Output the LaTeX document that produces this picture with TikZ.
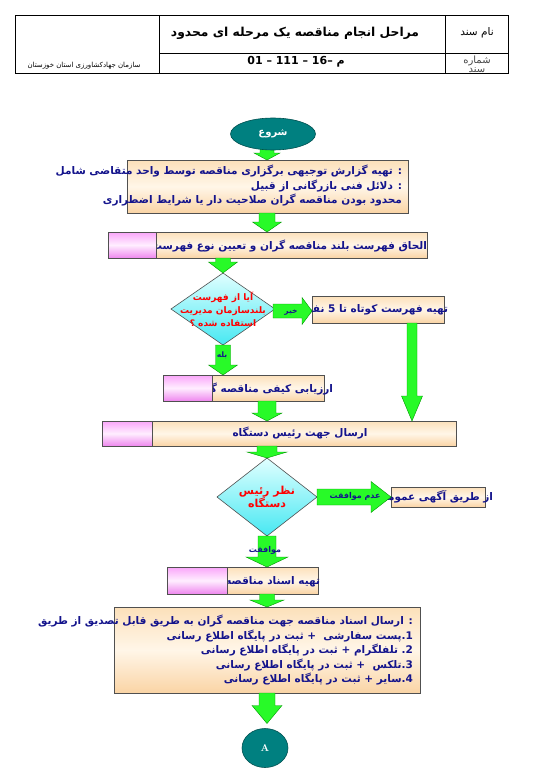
\documentclass[tikz,border=0pt]{standalone}
\usepackage{fontspec}
\usetikzlibrary{shapes.geometric,calc}
\TeXXeTstate=1
\newfontfamily\ar[Script=Arabic]{DejaVu Sans}
\newcommand\RL[1]{\beginR #1\endR}
\definecolor{navytxt}{RGB}{20,20,140}
\definecolor{peachT}{RGB}{252,224,186}
\definecolor{peachM}{RGB}{255,246,232}
\definecolor{peachB}{RGB}{250,212,165}
\definecolor{pinkT}{RGB}{250,165,250}
\definecolor{pinkM}{RGB}{255,238,255}
\definecolor{pinkB}{RGB}{238,135,238}
\definecolor{cyanT}{RGB}{225,255,255}
\definecolor{cyanB}{RGB}{70,232,242}
\definecolor{tealF}{RGB}{0,128,128}
\definecolor{arrF}{RGB}{40,250,40}
\definecolor{arrD}{RGB}{0,150,0}
\definecolor{boxD}{RGB}{80,80,80}
\newcommand\arrdown[5]{%
  \path[blk] let \p1=#1, \p2=#2 in (\x1-#3,\y1) -- (\x1+#3,\y1) -- (\x1+#3,\y2+#5) -- (\x1+#4,\y2+#5) -- (\x1,\y2) -- (\x1-#4,\y2+#5) -- (\x1-#3,\y2+#5) -- cycle;}
\newcommand\arrright[5]{%
  \path[blk] let \p1=#1, \p2=#2 in (\x1,\y1+#3) -- (\x2-#5,\y1+#3) -- (\x2-#5,\y1+#4) -- (\x2,\y1) -- (\x2-#5,\y1-#4) -- (\x2-#5,\y1-#3) -- (\x1,\y1-#3) -- cycle;}
\begin{document}
\begin{tikzpicture}[x=1pt,y=-1pt,
  box/.style={draw=boxD, line width=0.6pt, top color=peachT, bottom color=peachB, middle color=peachM, inner sep=0pt, outer sep=0pt, rectangle},
  pinkbox/.style={draw=boxD, line width=0.6pt, top color=pinkT, bottom color=pinkB, middle color=pinkM, inner sep=0pt, outer sep=0pt, rectangle},
  dia/.style={diamond, draw=boxD, line width=0.6pt, top color=cyanT, bottom color=cyanB, inner sep=0pt, outer sep=0pt},
  term/.style={ellipse, draw={rgb,255:red,0;green,80;blue,80}, line width=0.6pt, fill=tealF, inner sep=0pt, outer sep=0pt, text=white},
  txt/.style={inner sep=0pt, outer sep=0pt, text=navytxt, align=right, font=\ar\bfseries\fontsize{10.5}{14.5}\selectfont},
  redtxt/.style={inner sep=0pt, text=red, align=center, font=\ar\bfseries\fontsize{9}{13}\selectfont},
  lbl/.style={inner sep=0pt, text=navytxt, font=\ar\bfseries\fontsize{7.5}{9}\selectfont},
  hdr/.style={inner sep=0pt, font=\ar\fontsize{10.5}{12}\selectfont},
  blk/.style={fill=arrF, draw=arrD, line width=0.4pt},
  tline/.style={line width=1pt, draw=black}]
\useasboundingbox (0,0) rectangle (540,781);

% ---------- header table ----------
\draw[tline] (15,16) rectangle (508,74);
\draw[tline] (159,16) -- (159,74);
\draw[tline] (445,16) -- (445,74);
\draw[tline] (159,54) -- (508,54);
\node[hdr] (h1) at (477,33) {\RL{نام سند}};
\node[hdr, text={rgb,255:red,70;green,70;blue,70}, font=\ar\fontsize{10}{9}\selectfont] (h2) at (477,61) {\RL{شماره}};
\node[hdr, text={rgb,255:red,70;green,70;blue,70}, font=\ar\fontsize{10}{9}\selectfont] (h3) at (477,70.5) {\RL{سند}};
\node[hdr, font=\ar\bfseries\fontsize{12.3}{15}\selectfont] (ht) at (295,33) {\RL{مراحل انجام مناقصه یک مرحله ای محدود}};
\node[hdr, font=\ar\bfseries\fontsize{11}{13}\selectfont] (hc) at (296,62) {\mbox{01}\ \mbox{–}\ \mbox{111}\ \mbox{–}\ \mbox{16}\mbox{–}\ \mbox{م}};
\node[hdr, font=\ar\fontsize{7}{9}\selectfont] (ho) at (84,66) {\RL{سازمان جهادکشاورزی استان خوزستان}};

% ---------- column coordinates ----------
\coordinate (colx) at (267,0);
\coordinate (colb) at (412,0);

% ---------- boxes ----------
\node[box, minimum width=281pt, minimum height=53pt] (b1) at (267.5,186.5) {};
\node[box, minimum width=319pt, minimum height=26pt] (b2) at (267.5,245) {};
\node[dia, minimum width=104pt, minimum height=72pt] (d1) at (223,309) {};
\node[box, minimum width=132pt, minimum height=27pt] (b3) at (378,309.5) {};
\node[box, minimum width=161pt, minimum height=26pt] (b4) at (243.5,388) {};
\node[box, minimum width=354pt, minimum height=25pt] (b5) at (279,433.5) {};
\node[dia, minimum width=100pt, minimum height=78pt] (d2) at (267,497) {};
\node[box, minimum width=94pt, minimum height=20pt] (b7) at (438,497) {};
\node[box, minimum width=151pt, minimum height=27pt] (b6) at (242.5,580.5) {};
\node[box, minimum width=306pt, minimum height=86pt] (b8) at (267,650) {};
\node[term, minimum width=46pt, minimum height=39pt, font=\rmfamily\bfseries\fontsize{10}{12}\selectfont] (e) at (265,748) {A};

% ---------- texts ----------
\node[txt, anchor=north east] (t1) at (402,165) {\RL{: تهیه گزارش توجیهی برگزاری مناقصه توسط واحد متقاضی شامل}\\\RL{: دلائل فنی بازرگانی از قبیل}\\\RL{محدود بودن مناقصه گران صلاحیت دار یا شرایط اضطراری}};
\node[txt, anchor=east] (t2) at (427,246) {\RL{الحاق فهرست بلند مناقصه گران و تعیین نوع فهرست}};
\node[txt, anchor=east] (t3) at (448,310) {\RL{تهیه فهرست کوتاه تا 5 نفر}};
\node[txt, anchor=east] (t4) at (333,389) {\RL{ارزیابی کیفی مناقصه گران}};
\node[txt] (t5) at (300,433) {\RL{ارسال جهت رئیس دستگاه}};
\node[txt, anchor=east] (t7) at (493,497) {\RL{از طریق آگهی عمومی}};
\node[txt, anchor=east] (t6) at (320,582) {\RL{تهیه اسناد مناقصه}};
\node[txt, anchor=north east] (t8) at (413,615) {\RL{: ارسال اسناد مناقصه جهت مناقصه گران به طریق قابل تصدیق از طریق}\\\RL{\mbox{1}\mbox{.}پست سفارشی \ + ثبت در پایگاه اطلاع رسانی}\\\RL{\mbox{2}\mbox{.} تلفلگرام + ثبت در پایگاه اطلاع رسانی}\\\RL{\mbox{3}\mbox{.}تلکس \ + ثبت در پایگاه اطلاع رسانی}\\\RL{\mbox{4}\mbox{.}سایر + ثبت در پایگاه اطلاع رسانی}};
\node[redtxt] (td1) at (223,309) {\RL{آیا از فهرست}\\\RL{بلندسازمان مدیریت}\\\RL{استفاده شده ؟}};
\node[redtxt, font=\ar\bfseries\fontsize{11}{12}\selectfont] (td2) at (267,497) {\RL{نظر رئیس}\\\RL{دستگاه}};

% ---------- pink parts (drawn over text) ----------
\node[pinkbox, minimum width=48pt, minimum height=26pt] (p2) at (132,245) {};
\node[pinkbox, minimum width=49pt, minimum height=26pt] (p4) at (187.5,388) {};
\node[pinkbox, minimum width=50pt, minimum height=25pt] (p5) at (127,433.5) {};
\node[pinkbox, minimum width=60pt, minimum height=27pt] (p6) at (197,580.5) {};

% ---------- block arrows ----------
\arrdown{($(b1.north -| colx)+(0,-14)$)}{(b1.north -| colx)}{7pt}{13pt}{7pt}
\arrdown{(b1.south -| colx)}{(b2.north -| colx)}{8pt}{14.5pt}{10pt}
\arrdown{(b2.south -| d1.north)}{(d1.north)}{7.5pt}{14.5pt}{11pt}
\arrdown{(d1.south)}{(b4.north -| d1.south)}{7.5pt}{14.5pt}{10pt}
\arrdown{(b4.south -| colx)}{(b5.north -| colx)}{9pt}{15pt}{8pt}
\arrdown{(b5.south -| d2.north)}{(d2.north)}{10pt}{20pt}{6pt}
\arrdown{(d2.south)}{(b6.north -| d2.south)}{9pt}{21pt}{10pt}
\arrdown{(b6.south -| colx)}{(b8.north -| colx)}{7.5pt}{17pt}{7pt}
\arrdown{(b8.south -| colx)}{($(e.north -| colx)+(0,-5)$)}{8pt}{15pt}{18pt}
\arrdown{(b3.south -| colb)}{(b5.north -| colb)}{5pt}{10.5pt}{25pt}
\arrright{($(d1.east)+(-2,2)$)}{(b3.west)}{7pt}{13.5pt}{10pt}
\arrright{(d2.east)}{(b7.west)}{8pt}{15.5pt}{20pt}

% start terminal (covers arrow start)
\node[term, minimum width=85pt, minimum height=32pt, font=\ar\bfseries\fontsize{10}{12}\selectfont] (s) at (273,134) {\RL{شروع}};

% ---------- arrow labels ----------
\node[lbl] (l1) at (291,312) {\RL{خیر}};
\node[lbl] (l2) at (222,355) {\RL{بله}};
\node[lbl, font=\ar\bfseries\fontsize{8}{9}\selectfont] (l3) at (355,496) {\RL{عدم موافقت}};
\node[lbl, font=\ar\bfseries\fontsize{8}{9}\selectfont] (l4) at (265,550) {\RL{موافقت}};
\end{tikzpicture}
\end{document}
